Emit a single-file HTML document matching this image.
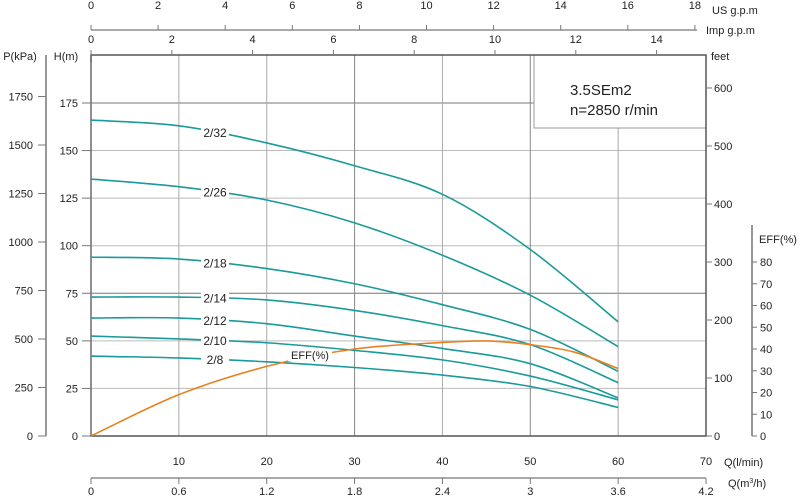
<!DOCTYPE html>
<html><head><meta charset="utf-8"><style>
body{margin:0;background:#fff}
svg text{font-family:"Liberation Sans",Arial,sans-serif;fill:#222}
</style></head><body>
<svg id="c" width="800" height="496" viewBox="0 0 800 496" xmlns="http://www.w3.org/2000/svg"></svg>
<script>
const qValues=[0,10,20,30,40,50,60];
const curveNames=["2/32","2/26","2/18","2/14","2/12","2/10","2/8"];
const head_2_32=[166,163,154,142,127,98,60];
const head_2_26=[135,131,124,112,95,74,47];
const head_2_18=[94,93,88,80,69,56,34];
const head_2_14=[73,73,71.5,66,58,48,28];
const head_2_12=[62,62,59,52.5,46,38,20];
const head_2_10=[52.5,51,49,45,40,31.5,19];
const head_2_8=[42,41,39,36,32,26,15];
const effQ=[0,10,20,30,40,45,50,55,60];
const effValues=[0,19,32,40,43,43.7,42,38.6,31];
const labelQ=[14,14,14,14,14,14,14];
const qTicks=[10,20,30,40,50,60,70];
const m3Ticks=["0","0.6","1.2","1.8","2.4","3","3.6","4.2"];
const usTicks=[0,2,4,6,8,10,12,14,16,18];
const impTicks=[0,2,4,6,8,10,12,14];
const hTicks=[0,25,50,75,100,125,150,175];
const kpaTicks=[0,250,500,750,1000,1250,1500,1750];
const ftTicks=[0,100,200,300,400,500,600];
const effTicks=[0,10,20,30,40,50,60,70,80];

const X0=91,X1=706,Y0=436,YT=55;
const xq=q=>X0+q*(X1-X0)/70;
const yh=h=>Y0-h*1.903;
const yk=k=>yh(k/9.81);
const yf=f=>yh(f/3.2808);
const ye=e=>Y0-e*2.175;
const xus=g=>X0+g*33.55;
const xim=g=>X0+g*40.4;
const svg=document.getElementById('c');
const NS="http://www.w3.org/2000/svg";
function el(tag,attrs,parent){const e=document.createElementNS(NS,tag);for(const k in attrs)e.setAttribute(k,attrs[k]);(parent||svg).appendChild(e);return e;}
function txt(x,y,s,anchor,size,name){const t=el('text',{x:x,y:y,'text-anchor':anchor||'middle','font-size':size||11});t.textContent=s;return t;}
function line(x1,y1,x2,y2,c,w,name){const l=el('line',{x1,y1,x2,y2,stroke:c,'stroke-width':w});return l;}
function smooth(pts){let d=`M${pts[0][0]},${pts[0][1]}`;for(let i=0;i<pts.length-1;i++){const p0=pts[i-1]||pts[i],p1=pts[i],p2=pts[i+1],p3=pts[i+2]||p2;const c1x=p1[0]+(p2[0]-p0[0])/6,c1y=p1[1]+(p2[1]-p0[1])/6,c2x=p2[0]-(p3[0]-p1[0])/6,c2y=p2[1]-(p3[1]-p1[1])/6;d+=` C${c1x},${c1y} ${c2x},${c2y} ${p2[0]},${p2[1]}`;}return d;}

hTicks.forEach(h=>{if(h>0){line(X0,yh(h),h===175?534:X1,yh(h),h===75||h===175?'#777':'#bbb',1,'h-gridline');}});
qTicks.forEach(q=>{if(q<70)line(xq(q),q===60?128:YT,xq(q),Y0,q===30||q===50?'#888':'#aaa',1,'q-gridline');});
const box=el('rect',{x:534,y:YT,width:X1-534,height:73,fill:'#fff',stroke:'#999','stroke-width':1});

txt(570,95,'3.5SEm2','start',15,'model-name');
txt(570,115,'n=2850 r/min','start',15,'speed-label');
const fr=el('rect',{x:X0,y:YT,width:X1-X0,height:Y0-YT,fill:'none',stroke:'#555','stroke-width':1.5});


const heads=[head_2_32,head_2_26,head_2_18,head_2_14,head_2_12,head_2_10,head_2_8];
heads.forEach((hs,i)=>{
  const p=el('path',{d:smooth(qValues.map((q,j)=>[xq(q),yh(hs[j])])),fill:'none',stroke:'#1a9a9a','stroke-width':1.6});
  
  
});
const ep=el('path',{d:smooth(effQ.map((q,j)=>[xq(q),ye(effValues[j])])),fill:'none',stroke:'#e8801e','stroke-width':1.6});

function interp(arr,q){const i=Math.min(Math.floor(q/10),5);const t=(q-i*10)/10;return arr[i]+(arr[i+1]-arr[i])*t;}
heads.forEach((hs,i)=>{
  const x=xq(labelQ[i]),y=yh(interp(hs,labelQ[i]));
  const r=el('rect',{x:x-13,y:y-7,width:28,height:14,fill:'#fff'});
  
  txt(x+1,y+4.5,curveNames[i],'middle',12,'curve-label');
});
{const r=el('rect',{x:288,y:349,width:44,height:12,fill:'#fff'});
txt(310,359,'EFF(%)','middle',11,'eff-label');}

line(46,YT,46,Y0,'#777',1.5,'kpa-axis');
line(91,YT+8,91,Y0,'#777',1,'h-axis');
txt(20,60,'P(kPa)','middle',11,'kpa-axis-title');
txt(66,60,'H(m)','middle',11,'h-axis-title');
kpaTicks.forEach(k=>{line(38,yk(k),46,yk(k),'#777',1,'kpa-tick');txt(33,yk(k)+4,String(k),'end',11,'kpa-tick-label');});
hTicks.forEach(h=>{line(82,yh(h),91,yh(h),'#777',1,'h-tick');txt(78,yh(h)+4,String(h),'end',11,'h-tick-label');});
txt(711,60,'feet','start',11,'feet-axis-title');
ftTicks.forEach(f=>{line(X1,yf(f),712,yf(f),'#777',1,'feet-tick');txt(714,yf(f)+4,String(f),'start',11,'feet-tick-label');});
line(752,225,752,Y0,'#777',1.5,'eff-axis');
txt(778,243,'EFF(%)','middle',11,'eff-axis-title');
effTicks.forEach(e=>{line(752,ye(e),757,ye(e),'#777',1,'eff-tick');txt(760,ye(e)+4,String(e),'start',11,'eff-tick-label');});
line(X0,30,697,30,'#555',1,'us-gpm-axis');
usTicks.forEach(g=>{line(xus(g),25,xus(g),30,'#777',1,'us-tick');txt(xus(g),9,String(g),'middle',11,'us-tick-label');});
txt(712,14,'US  g.p.m','start',11,'us-gpm-title');
impTicks.forEach(g=>{line(xim(g),50,xim(g),YT,'#777',1,'imp-tick');txt(xim(g),43,String(g),'middle',11,'imp-tick-label');});
txt(706,34,'Imp  g.p.m','start',11,'imp-gpm-title');
qTicks.forEach(q=>txt(xq(q),465,String(q),'middle',11,'q-tick-label'));
txt(724,466,'Q(l/min)','start',11,'q-lmin-title');
line(X0,478,X1,478,'#555',1,'m3h-axis');
m3Ticks.forEach((s,i)=>{const x=xq(i*10);line(x,478,x,484,'#777',1,'m3h-tick');txt(x,495,s,'middle',11,'m3h-tick-label');});
const m=txt(728,487,'Q(m','start',11,'q-m3h-title');
const sup=el('tspan',{'font-size':7,dy:-4},m);sup.textContent='3';
const rest=el('tspan',{dy:4},m);rest.textContent='/h)';
</script>
</body></html>
